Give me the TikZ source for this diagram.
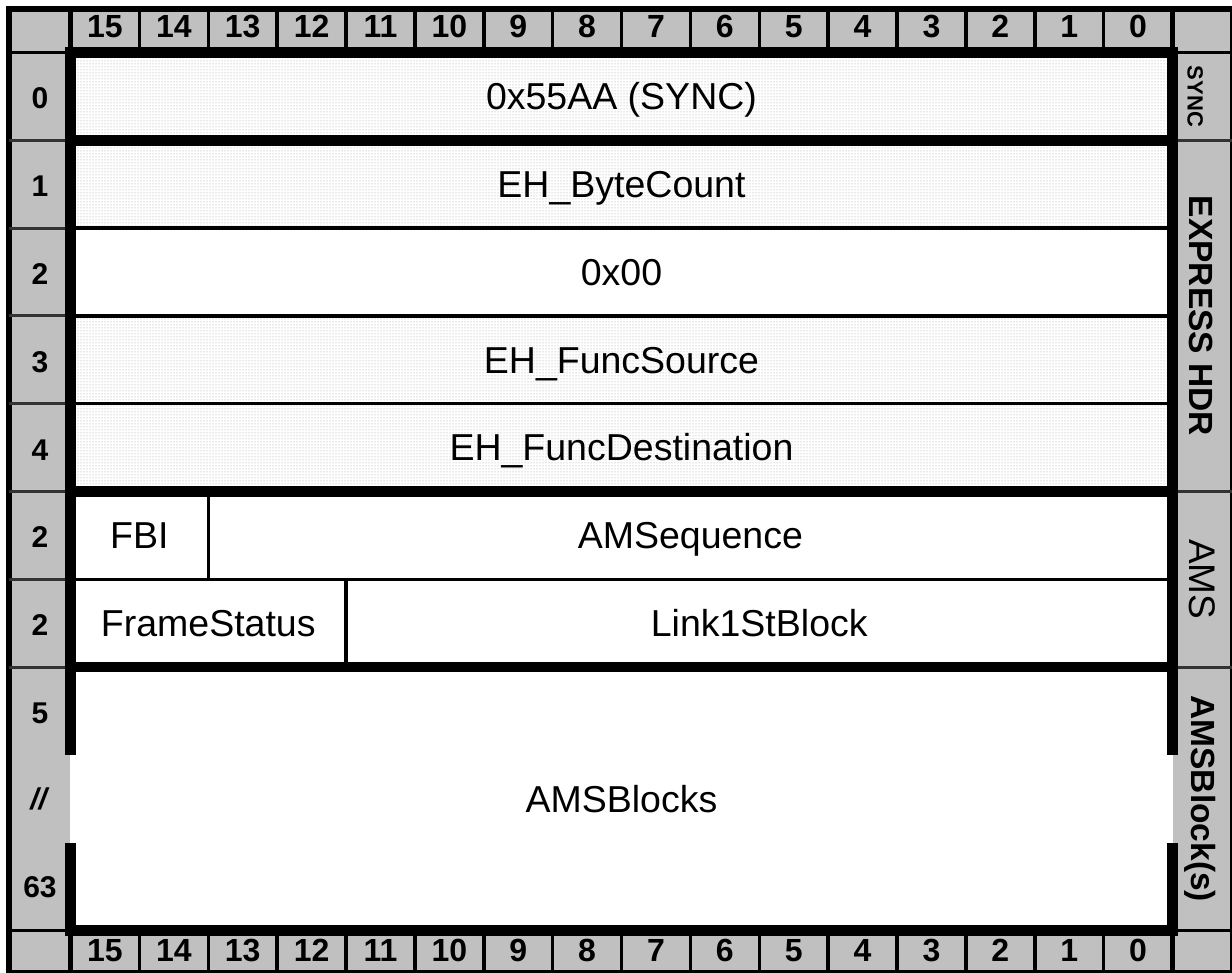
\documentclass[tikz,border=0pt]{standalone}
\usepackage{fontspec}
\setmainfont{Liberation Sans}
\usetikzlibrary{patterns}
\definecolor{silver}{RGB}{192,192,192}

\begin{document}
\begin{tikzpicture}[x=68.875pt,y=-87.8pt,
  bitnum/.style={inner sep=0pt,anchor=base,yshift=-11.5pt,font=\fontsize{32}{32}\selectfont\bfseries},
  wordnum/.style={inner sep=0pt,anchor=base,yshift=-10.7pt,font=\fontsize{30}{30}\selectfont\bfseries},
  field/.style={inner sep=0pt,anchor=base,yshift=-13.3pt,font=\fontsize{37.5}{37.5}\selectfont},
  group/.style={inner sep=0pt,rotate=-90,font=\fontsize{33.5}{33.5}\selectfont\bfseries},
  thickline/.style={line width=10.5pt},
  thinline/.style={line width=3.5pt}]
\useasboundingbox (-1.0236,-0.598) rectangle (16.864,10.484);
\draw [line width=6pt,fill=silver] (-0.893,-0.495) rectangle (16.879,10.484);
\fill [white] (0,0) rectangle (16,10);
\foreach \r in {0,1,3,4}
  \fill [pattern=dots,pattern color=black!40] (0,\r) rectangle (16,\r+1);

\foreach \b [count=\i from 0] in {15,14,...,0} {
  \node [bitnum] (top\i) at (\i+0.5,-0.302) {\b};
  \node [bitnum] (bot\i) at (\i+0.5,10.222) {\b};
}
\foreach \i in {1,...,15} {
  \draw [line width=3.5pt] (\i,-0.495)--(\i,0);
  \draw [line width=3.5pt] (\i,10)--(\i,10.484);
}
\draw [line width=5pt] (0,-0.495)--(0,0) (16,-0.495)--(16,0) (0,10)--(0,10.484) (16,10)--(16,10.484);
\draw [line width=3pt] (-0.893,0)--(16.879,0) (-0.893,10)--(16.879,10);
\foreach \r in {1,...,7}
  \draw [line width=3pt,black!80] (-0.893,\r)--(0,\r);
\foreach \r in {1,5,7}
  \draw [line width=3pt,black!80] (16,\r)--(16.879,\r);

\draw [thickline] (0,8)--(0,0)--(16,0)--(16,8);
\draw [thickline] (0,9)--(0,10)--(16,10)--(16,9);
\foreach \r in {1,5,7}
  \draw [thickline] (0,\r)--(16,\r);
\foreach \r in {2,3,4,6}
  \draw [thinline] (0,\r)--(16,\r);
\draw [thinline] (2,5)--(2,6) (4,6)--(4,7);

\foreach \w [count=\r from 0] in {0,1,2,3,4,2,2,5}
  \node [wordnum] (word\r) at (-0.443,\r+0.52) {\w};
\node [wordnum] (word8) at (-0.443,8.5) {\textit{//}};
\node [wordnum] (word9) at (-0.443,9.5) {63};

\node [group,font=\fontsize{22}{22}\selectfont\bfseries] (sync) at (16.33,0.5) {SYNC};
\node [group] (hdr) at (16.42,3) {EXPRESS HDR};
\node [group,font=\fontsize{37}{37}\selectfont] (ams) at (16.43,6) {AMS};
\node [group] (amsblk) at (16.40,8.5) {AMSBlock(s)};

\node [field] (syncword) at (8,0.5) {0x55AA (SYNC)};
\node [field] (count) at (8,1.5) {EH\_ByteCount};
\node [field] (zero) at (8,2.5) {0x00};
\node [field] (source) at (8,3.5) {EH\_FuncSource};
\node [field] (dest) at (8,4.5) {EH\_FuncDestination};
\node [field] (fbi) at (1,5.5) {FBI};
\node [field] (sequence) at (9,5.5) {AMSequence};
\node [field] (status) at (2,6.5) {FrameStatus};
\node [field] (link) at (10,6.5) {Link1StBlock};
\node [field] (blocks) at (8,8.5) {AMSBlocks};
\end{tikzpicture}
\end{document}
